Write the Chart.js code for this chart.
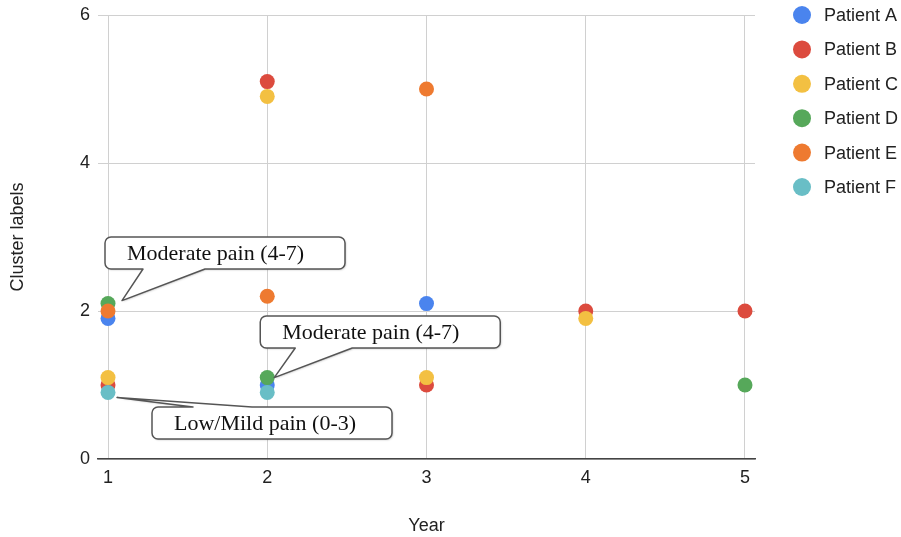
<!DOCTYPE html>
<html>
<head>
<meta charset="utf-8">
<title>Cluster labels by year</title>
<script src="https://cdn.jsdelivr.net/npm/chart.js@4/dist/chart.umd.min.js"></script>
<style>
  html, body { margin: 0; padding: 0; background: #fff; }
  #wrap { width: 901px; height: 537px; position: relative; }
</style>
</head>
<body>
<div id="wrap"><canvas id="chart"></canvas></div>
<script>
// Years on the x axis and the cluster label of each patient per year (null = no reading)
const years = [1, 2, 3, 4, 5];
const patientA = [1.9, 1.0, 2.1, null, null];
const patientB = [1.0, 5.1, 1.0, 2.0, 2.0];
const patientC = [1.1, 4.9, 1.1, 1.9, null];
const patientD = [2.1, 1.1, null, null, 1.0];
const patientE = [2.0, 2.2, 5.0, null, null];
const patientF = [0.9, 0.9, null, null, null];

const seriesNames = ['Patient A', 'Patient B', 'Patient C', 'Patient D', 'Patient E', 'Patient F'];
const seriesValues = [patientA, patientB, patientC, patientD, patientE, patientF];

const yTicks = [0, 2, 4, 6];

// Callout notes, each pinned to one patient's reading in one year
const calloutTexts = ['Moderate pain (4-7)', 'Moderate pain (4-7)', 'Low/Mild pain (0-3)'];
const calloutSeries = ['Patient D', 'Patient D', 'Patient F'];
const calloutYears = [1, 2, 1];

// Styling
const colors = ['#4a84ee', '#dc4b3e', '#f3c042', '#56a85a', '#ee7a30', '#69bec6'];
const sansFont = '"Liberation Sans", Arial, Helvetica, sans-serif';
const serifFont = '"Liberation Serif", "Times New Roman", serif';

// Callout geometry in pixels, relative to the anchored point
const calloutStyle = [
  { tip: [14, -3], box: [-3, -66.6], edge: 'bottom', base: [38, 100] },
  { tip: [7, 0],   box: [-7, -61.6], edge: 'bottom', base: [35, 92] },
  { tip: [9, 5],   box: [44, 14.6],  edge: 'top',    base: [41, 100] }
];
const calloutW = 240, calloutH = 32, calloutR = 6;

const datasets = seriesNames.map((name, i) => ({
  label: name,
  data: years.map((yr, j) => seriesValues[i][j] === null ? null : { x: yr, y: seriesValues[i][j] })
              .filter(p => p !== null),
  backgroundColor: colors[i],
  borderWidth: 0,
  pointRadius: 7.5,
  pointHoverRadius: 7.5,
  // later patients are painted over earlier ones
  order: seriesNames.length - i
}));

function calloutPath(ctx, bx, by, w, h, r, edge, b0, b1, tx, ty) {
  ctx.beginPath();
  ctx.moveTo(bx + r, by);
  if (edge === 'top') { ctx.lineTo(bx + b0, by); ctx.lineTo(tx, ty); ctx.lineTo(bx + b1, by); }
  ctx.lineTo(bx + w - r, by);
  ctx.arcTo(bx + w, by, bx + w, by + r, r);
  ctx.lineTo(bx + w, by + h - r);
  ctx.arcTo(bx + w, by + h, bx + w - r, by + h, r);
  if (edge === 'bottom') { ctx.lineTo(bx + b1, by + h); ctx.lineTo(tx, ty); ctx.lineTo(bx + b0, by + h); }
  ctx.lineTo(bx + r, by + h);
  ctx.arcTo(bx, by + h, bx, by + h - r, r);
  ctx.lineTo(bx, by + r);
  ctx.arcTo(bx, by, bx + r, by, r);
  ctx.closePath();
}

const calloutPlugin = {
  id: 'callouts',
  afterDatasetsDraw(chart) {
    const { ctx, scales: { x, y } } = chart;
    calloutTexts.forEach((text, i) => {
      const si = seriesNames.indexOf(calloutSeries[i]);
      const yi = years.indexOf(calloutYears[i]);
      const ax = x.getPixelForValue(calloutYears[i]);
      const ay = y.getPixelForValue(seriesValues[si][yi]);
      const st = calloutStyle[i];
      const bx = ax + st.box[0], by = ay + st.box[1];
      const tx = ax + st.tip[0], ty = ay + st.tip[1];
      ctx.save();
      calloutPath(ctx, bx, by, calloutW, calloutH, calloutR, st.edge, st.base[0], st.base[1], tx, ty);
      ctx.shadowColor = 'rgba(0,0,0,0.25)';
      ctx.shadowOffsetX = 1;
      ctx.shadowOffsetY = 1;
      ctx.shadowBlur = 2;
      ctx.fillStyle = '#ffffff';
      ctx.fill();
      ctx.shadowColor = 'transparent';
      ctx.strokeStyle = '#555555';
      ctx.lineWidth = 1.5;
      ctx.lineJoin = 'round';
      ctx.stroke();
      ctx.fillStyle = '#111111';
      ctx.font = '22px ' + serifFont;
      ctx.textBaseline = 'middle';
      ctx.textAlign = 'left';
      ctx.fillText(text, bx + 22, by + calloutH / 2 + 1);
      ctx.restore();
    });
  }
};

const legendPlugin = {
  id: 'sideLegend',
  afterDraw(chart) {
    const { ctx } = chart;
    const top = chart.chartArea.top;
    ctx.save();
    ctx.font = '18px ' + sansFont;
    ctx.textBaseline = 'middle';
    ctx.textAlign = 'left';
    chart.data.datasets.forEach((ds, i) => {
      const cy = top + i * 34.4;
      ctx.beginPath();
      ctx.arc(802, cy, 9, 0, Math.PI * 2);
      ctx.fillStyle = ds.backgroundColor;
      ctx.fill();
      ctx.fillStyle = '#222222';
      ctx.fillText(ds.label, 824, cy + 1);
    });
    ctx.restore();
  }
};

new Chart(document.getElementById('chart'), {
  type: 'scatter',
  data: { datasets },
  plugins: [calloutPlugin, legendPlugin],
  options: {
    responsive: true,
    maintainAspectRatio: false,
    animation: false,
    events: [],
    layout: { padding: { top: 15, right: 146, bottom: 0, left: 0 } },
    plugins: {
      legend: { display: false },
      tooltip: { enabled: false }
    },
    scales: {
      x: {
        type: 'linear',
        min: 1 - 10 / 159.25,
        max: 5 + 10 / 159.25,
        afterBuildTicks(scale) { scale.ticks = years.map(v => ({ value: v })); },
        afterFit(scale) { scale.height = 78; scale.paddingLeft = 0; scale.paddingRight = 0; },
        grid: { color: '#d0d0d0', drawTicks: false, lineWidth: 1 },
        border: { display: true, color: '#444444', width: 1.5 },
        ticks: {
          padding: 8,
          color: '#222222',
          font: { family: sansFont, size: 18 },
          callback: v => String(v)
        },
        title: {
          display: true,
          text: 'Year',
          color: '#222222',
          font: { family: sansFont, size: 18 },
          padding: { top: 25, bottom: 0 }
        }
      },
      y: {
        type: 'linear',
        min: 0,
        max: 6,
        afterBuildTicks(scale) { scale.ticks = yTicks.map(v => ({ value: v })); },
        afterFit(scale) { scale.width = 98; scale.paddingTop = 0; scale.paddingBottom = 0; },
        grid: { color: '#d0d0d0', drawTicks: false, lineWidth: 1 },
        border: { display: false },
        ticks: {
          padding: 8,
          color: '#222222',
          font: { family: sansFont, size: 18 },
          callback: v => String(v)
        },
        title: {
          display: true,
          text: 'Cluster labels',
          color: '#222222',
          font: { family: sansFont, size: 18 },
          padding: { top: 7, bottom: 0 }
        }
      }
    }
  }
});
</script>
</body>
</html>
